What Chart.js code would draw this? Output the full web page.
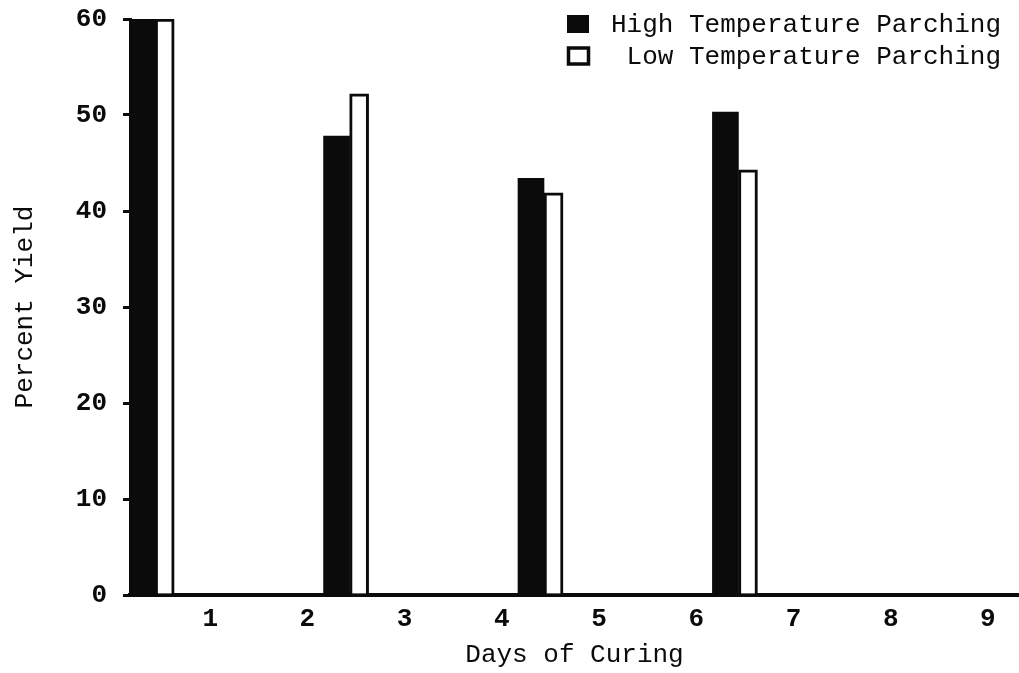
<!DOCTYPE html>
<html>
<head>
<meta charset="utf-8">
<script src="https://cdn.jsdelivr.net/npm/chart.js@4.4.1/dist/chart.umd.min.js"></script>
<style>
  html, body { margin: 0; padding: 0; background: #ffffff; }
  #wrap { width: 1019px; height: 673px; position: relative; }
</style>
</head>
<body>
<div id="wrap"><canvas id="c" width="1019" height="673"></canvas></div>
<script>
// ---- data ----
const days = [0, 2, 4, 6];                 // day at which each pair of bars starts
const highTempYield = [60, 47.8, 43.4, 50.3];
const lowTempYield  = [60, 52.2, 41.9, 44.3];
const seriesLabels = ['High Temperature Parching', 'Low Temperature Parching'];
const xTickLabels = [1, 2, 3, 4, 5, 6, 7, 8, 9];
const yTickLabels = [0, 10, 20, 30, 40, 50, 60];

// ---- style ----
const INK = '#0b0b0b';
const FONT = "'Liberation Mono', 'DejaVu Sans Mono', monospace";
const highOffset = 0.30, lowOffset = 0.532;

const highData = days.map((d, i) => ({ x: d + highOffset, y: highTempYield[i] }));
const lowData  = days.map((d, i) => ({ x: d + lowOffset,  y: lowTempYield[i] }));

const legendPlugin = {
  id: 'typedLegend',
  afterDraw(chart) {
    const ctx = chart.ctx;
    ctx.save();
    ctx.font = '26px ' + FONT;
    ctx.textAlign = 'right';
    ctx.textBaseline = 'middle';
    const rows = [24, 56];
    chart.data.datasets.forEach((ds, i) => {
      const y = rows[i];
      if (i === 0) {
        ctx.fillStyle = INK;
        ctx.fillRect(567, y - 9, 22, 18);
      } else {
        ctx.fillStyle = '#fff';
        ctx.strokeStyle = INK;
        ctx.lineWidth = 3.5;
        ctx.strokeRect(568.5, y - 8, 20, 16);
      }
      ctx.fillStyle = INK;
      ctx.fillText(ds.label, 1001, y + 1);
    });
    ctx.restore();
  }
};

new Chart(document.getElementById('c'), {
  type: 'bar',
  data: {
    datasets: [
      {
        label: seriesLabels[0],
        data: highData,
        backgroundColor: INK,
        borderWidth: 0,
        barThickness: 26,
        grouped: false
      },
      {
        label: seriesLabels[1],
        data: lowData,
        backgroundColor: '#ffffff',
        borderColor: INK,
        borderWidth: 3,
        borderSkipped: 'start',
        barThickness: 19,
        grouped: false
      }
    ]
  },
  plugins: [legendPlugin],
  options: {
    responsive: false,
    animation: false,
    devicePixelRatio: 1,
    layout: { padding: { top: 19, left: 0, right: 0, bottom: 0 } },
    plugins: {
      legend: { display: false },
      tooltip: { enabled: false }
    },
    scales: {
      x: {
        type: 'linear',
        min: 0.175,
        max: 9.32,
        offset: false,
        grid: { display: false, drawTicks: false },
        border: { display: true, color: INK, width: 4 },
        ticks: {
          stepSize: 1,
          includeBounds: false,
          autoSkip: false,
          maxRotation: 0,
          padding: 9,
          color: INK,
          font: { family: FONT, size: 26, weight: 'bold' },
          callback: (v) => String(v)
        },
        afterBuildTicks: (scale) => {
          scale.ticks = xTickLabels.map(v => ({ value: v }));
        },
        afterFit: (scale) => { scale.height = 78; scale.paddingLeft = 0; scale.paddingRight = 0; },
        title: {
          display: true,
          text: 'Days of Curing',
          color: INK,
          font: { family: FONT, size: 26 },
          padding: { top: 2, bottom: 2 }
        }
      },
      y: {
        min: 0,
        max: 60,
        grid: { display: true, drawOnChartArea: false, drawTicks: true, tickLength: 7, color: INK, lineWidth: 3 },
        border: { display: true, color: INK, width: 3 },
        ticks: {
          stepSize: 10,
          padding: 16,
          color: INK,
          font: { family: FONT, size: 26, weight: 'bold' },
          callback: (v) => String(v)
        },
        afterBuildTicks: (scale) => {
          scale.ticks = yTickLabels.map(v => ({ value: v }));
        },
        afterFit: (scale) => { scale.width = 130; scale.paddingTop = 0; scale.paddingBottom = 0; },
        title: {
          display: true,
          text: 'Percent Yield',
          color: INK,
          font: { family: FONT, size: 26 },
          padding: { top: 10, bottom: 0 }
        }
      }
    }
  }
});
</script>
</body>
</html>
